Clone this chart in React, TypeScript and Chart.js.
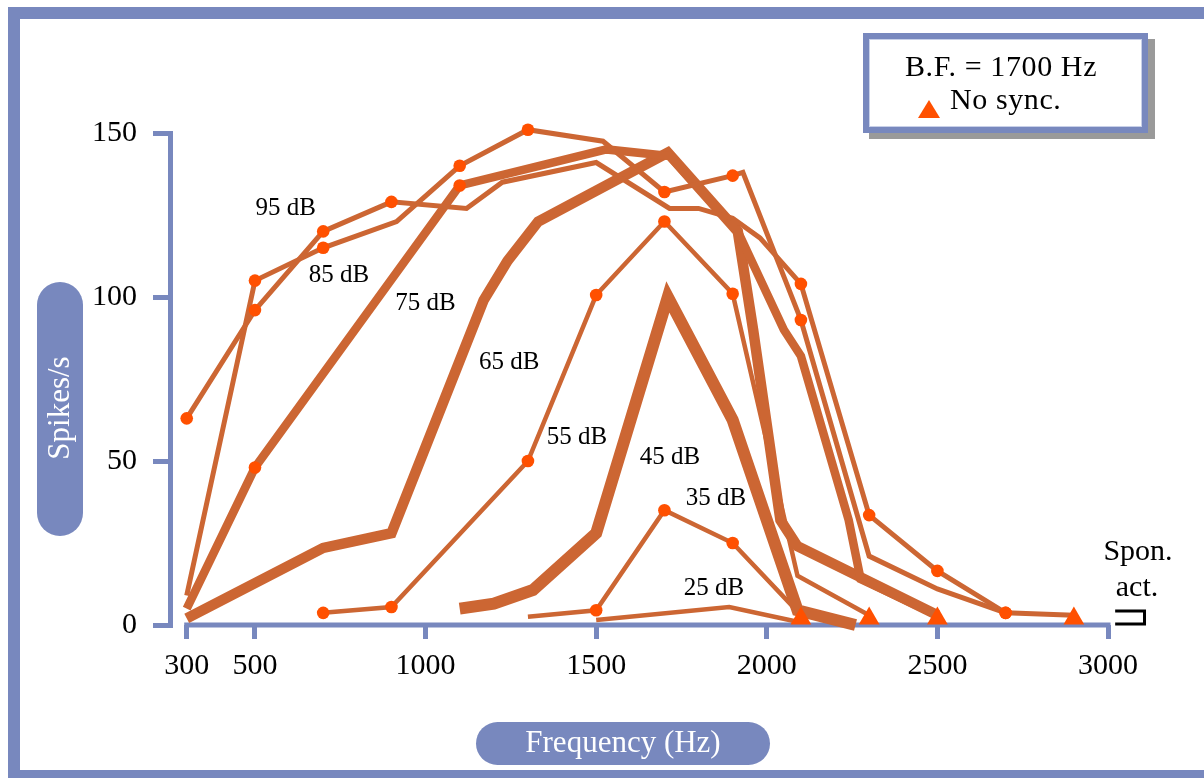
import React, { useEffect, useRef } from "react";
import { Chart, registerables } from "chart.js";

Chart.register(...registerables);

const SERIF = "'Liberation Serif', 'Times New Roman', serif";
const BLUE = "#7888be";
const LINE = "#cc6633";
const DOT = "#ff5000";

// axis ticks
const X_TICKS = [300, 500, 1000, 1500, 2000, 2500, 3000];
const Y_TICKS = [0, 50, 100, 150];

// iso-intensity curves (frequency in Hz, rate in spikes/s); DOT_* = 1 where a dot is drawn
const FREQ_95 = [300, 500, 700, 900, 1120, 1225, 1500, 1715, 1800, 1900, 1980, 2100, 2300, 2500, 2700, 2900];
const RATE_95 = [63, 96, 120, 129, 127, 135, 141, 127, 127, 124, 118, 104, 33.5, 16.5, 3.7, 3];
const DOT_95 = [1, 1, 1, 1, 0, 0, 0, 0, 0, 0, 0, 1, 1, 1, 1, 0];

const FREQ_85 = [300, 500, 700, 915, 1100, 1300, 1520, 1700, 1900, 1930, 2100, 2300, 2500, 2700];
const RATE_85 = [9, 105, 115, 123, 140, 151, 147.5, 132, 137, 138, 93, 21, 11, 3.7];
const DOT_85 = [0, 1, 1, 0, 1, 1, 0, 1, 1, 0, 1, 0, 0, 1];

const FREQ_75 = [300, 500, 1100, 1530, 1715, 1915, 2050, 2100, 2240, 2275, 2500];
const RATE_75 = [5, 48, 134, 145, 143, 120, 90, 82, 32, 14, 3];
const DOT_75 = [0, 1, 1, 0, 0, 0, 0, 0, 0, 0, 0];

const FREQ_65 = [300, 700, 900, 1170, 1240, 1330, 1710, 1915, 1960, 2040, 2090, 2500];
const RATE_65 = [2, 23.5, 28, 99, 111, 123, 144, 120, 90, 32, 24, 3];
const DOT_65 = [0, 0, 0, 0, 0, 0, 0, 0, 0, 0, 0, 0];

const FREQ_55 = [700, 900, 1300, 1500, 1700, 1900, 2090, 2300];
const RATE_55 = [3.7, 5.5, 50, 100.6, 123, 101, 15, 3];
const DOT_55 = [1, 1, 1, 1, 1, 1, 0, 0];

const FREQ_45 = [1100, 1200, 1315, 1500, 1710, 1900, 2090, 2260];
const RATE_45 = [5, 6.5, 10.7, 28, 100, 62.5, 4.5, 0];
const DOT_45 = [0, 0, 0, 0, 0, 0, 0, 0];

const FREQ_35 = [1300, 1500, 1700, 1900, 2100];
const RATE_35 = [2.5, 4.5, 35, 25, 3];
const DOT_35 = [0, 1, 1, 1, 0];

const FREQ_25 = [1500, 1890, 2090];
const RATE_25 = [1.5, 5.5, 1];
const DOT_25 = [0, 0, 0];

// "No sync." points
const NOSYNC_FREQ = [2100, 2300, 2500, 2900];
const NOSYNC_RATE = [2, 2, 2, 2];

// curve labels, anchored in data space
const LABEL_TEXT = ["95 dB", "85 dB", "75 dB", "65 dB", "55 dB", "45 dB", "35 dB", "25 dB"];
const LABEL_FREQ = [590, 746, 1000, 1245, 1444, 1716, 1851, 1845];
const LABEL_RATE = [127, 106.7, 98, 80, 57.3, 51.2, 38.7, 11];

// spontaneous activity bracket
const SPON_FREQ = [3021, 3107];
const SPON_RATE = [0.3, 4.3];

const SERIES = [
  { label: "95 dB", freq: FREQ_95, rate: RATE_95, dots: DOT_95, width: 5 },
  { label: "85 dB", freq: FREQ_85, rate: RATE_85, dots: DOT_85, width: 5 },
  { label: "75 dB", freq: FREQ_75, rate: RATE_75, dots: DOT_75, width: 8.5 },
  { label: "65 dB", freq: FREQ_65, rate: RATE_65, dots: DOT_65, width: 10.5 },
  { label: "55 dB", freq: FREQ_55, rate: RATE_55, dots: DOT_55, width: 4.5 },
  { label: "45 dB", freq: FREQ_45, rate: RATE_45, dots: DOT_45, width: 12 },
  { label: "35 dB", freq: FREQ_35, rate: RATE_35, dots: DOT_35, width: 4.5 },
  { label: "25 dB", freq: FREQ_25, rate: RATE_25, dots: DOT_25, width: 4.5 },
];

function pill(ctx: CanvasRenderingContext2D, x: number, y: number, w: number, h: number) {
  const r = Math.min(w, h) / 2;
  ctx.beginPath();
  (ctx as any).roundRect(x, y, w, h, r);
  ctx.fill();
}

const decorPlugin = {
  id: "decor",
  beforeDraw(chart: any) {
    const ctx: CanvasRenderingContext2D = chart.ctx;
    ctx.save();
    // outer frame
    ctx.strokeStyle = BLUE;
    ctx.lineWidth = 12;
    ctx.strokeRect(14, 13, 1300, 763);

    // axis title pills
    ctx.fillStyle = BLUE;
    pill(ctx, 37, 282, 46, 254);
    pill(ctx, 476, 722, 294, 43);

    ctx.fillStyle = "#ffffff";
    ctx.font = `31px ${SERIF}`;
    ctx.textAlign = "center";
    ctx.textBaseline = "middle";
    ctx.fillText("Frequency (Hz)", 623, 744);
    ctx.save();
    ctx.translate(61, 408);
    ctx.rotate(-Math.PI / 2);
    ctx.fillText("Spikes/s", 0, 0);
    ctx.restore();
    ctx.restore();
  },
  beforeDatasetsDraw(chart: any) {
    const ctx: CanvasRenderingContext2D = chart.ctx;
    const xs = chart.scales.x;
    const ys = chart.scales.y;
    ctx.save();
    ctx.strokeStyle = BLUE;
    ctx.lineWidth = 5;
    ctx.beginPath();
    const y0 = ys.getPixelForValue(0);
    ctx.moveTo(xs.getPixelForValue(X_TICKS[0]) - 2.5, y0);
    ctx.lineTo(xs.getPixelForValue(X_TICKS[X_TICKS.length - 1]) + 2.5, y0);
    ctx.stroke();
    ctx.restore();
  },
  afterDraw(chart: any) {
    const ctx: CanvasRenderingContext2D = chart.ctx;
    const xs = chart.scales.x;
    const ys = chart.scales.y;
    ctx.save();
    // curve labels
    ctx.fillStyle = "#000";
    ctx.font = `25px ${SERIF}`;
    ctx.textAlign = "center";
    ctx.textBaseline = "middle";
    LABEL_TEXT.forEach((t, i) => {
      ctx.fillText(t, xs.getPixelForValue(LABEL_FREQ[i]), ys.getPixelForValue(LABEL_RATE[i]));
    });

    // spontaneous activity
    ctx.font = `30px ${SERIF}`;
    ctx.fillText("Spon.", 1138, 552);
    ctx.fillText("act.", 1137, 588);
    ctx.strokeStyle = "#000";
    ctx.lineWidth = 3;
    ctx.beginPath();
    const sx0 = xs.getPixelForValue(SPON_FREQ[0]);
    const sx1 = xs.getPixelForValue(SPON_FREQ[1]);
    const sy0 = ys.getPixelForValue(SPON_RATE[0]);
    const sy1 = ys.getPixelForValue(SPON_RATE[1]);
    ctx.moveTo(sx0, sy1);
    ctx.lineTo(sx1, sy1);
    ctx.lineTo(sx1, sy0);
    ctx.lineTo(sx0, sy0);
    ctx.stroke();

    // legend box
    ctx.fillStyle = "#9a9a9a";
    ctx.fillRect(869, 39, 286, 100);
    ctx.fillStyle = "#ffffff";
    ctx.fillRect(863, 33, 285, 100);
    ctx.strokeStyle = BLUE;
    ctx.lineWidth = 6;
    ctx.strokeRect(866, 36, 279, 94);
    ctx.strokeStyle = "#c8d0e8";
    ctx.lineWidth = 1;
    ctx.strokeRect(869.5, 39.5, 272, 87);

    ctx.fillStyle = "#000";
    ctx.font = `30px ${SERIF}`;
    (ctx as any).letterSpacing = "0.6px";
    ctx.textBaseline = "alphabetic";
    ctx.textAlign = "center";
    ctx.fillText("B.F. = 1700 Hz", 1001, 76);
    ctx.textAlign = "left";
    ctx.fillText("No sync.", 950, 109);
    (ctx as any).letterSpacing = "0px";
    ctx.fillStyle = DOT;
    ctx.beginPath();
    ctx.moveTo(918, 118);
    ctx.lineTo(940, 118);
    ctx.lineTo(929, 100);
    ctx.closePath();
    ctx.fill();
    ctx.restore();
  },
};

export default function App() {
  const ref = useRef<HTMLCanvasElement | null>(null);

  useEffect(() => {
    if (!ref.current) return;
    const datasets: any[] = [];
    SERIES.forEach((s) => {
      const pts = s.freq.map((f, i) => ({ x: f, y: s.rate[i] }));
      datasets.push({
        type: "line",
        label: s.label,
        data: pts,
        borderColor: LINE,
        borderWidth: s.width,
        borderCapStyle: "butt",
        borderJoinStyle: "miter",
        pointRadius: 0,
        tension: 0,
        fill: false,
        clip: false,
        order: 3,
      });
      datasets.push({
        type: "line",
        label: s.label + " points",
        data: pts,
        showLine: false,
        pointRadius: s.dots.map((d) => (d ? 6.3 : 0)),
        pointBackgroundColor: DOT,
        pointBorderWidth: 0,
        pointBorderColor: DOT,
        clip: false,
        order: 2,
      });
    });
    datasets.push({
      type: "line",
      label: "No sync.",
      data: NOSYNC_FREQ.map((f, i) => ({ x: f, y: NOSYNC_RATE[i] })),
      showLine: false,
      pointStyle: "triangle",
      pointRadius: 12,
      pointBackgroundColor: DOT,
      pointBorderWidth: 0,
      pointBorderColor: DOT,
      clip: false,
      order: 1,
    });

    const chart = new Chart(ref.current, {
      type: "line",
      data: { datasets },
      options: {
        animation: false,
        responsive: false,
        events: [],
        layout: { padding: { left: 60, right: 96, top: 133, bottom: 93 } },
        plugins: { legend: { display: false }, tooltip: { enabled: false } },
        scales: {
          x: {
            type: "linear",
            min: 251,
            max: 3000,
            afterBuildTicks: (s: any) => {
              s.ticks = X_TICKS.map((v) => ({ value: v }));
            },
            afterFit: (s: any) => {
              s.height = 60;
            },
            border: { display: false },
            grid: {
              drawOnChartArea: false,
              drawTicks: true,
              tickLength: 14,
              lineWidth: 5,
              color: BLUE,
            },
            ticks: {
              color: "#000",
              font: { family: SERIF, size: 30 },
              padding: 9,
              maxRotation: 0,
              autoSkip: false,
              callback: (v: any) => String(v),
            },
          },
          y: {
            type: "linear",
            min: 0,
            max: 150,
            afterBuildTicks: (s: any) => {
              s.ticks = Y_TICKS.map((v) => ({ value: v }));
            },
            afterFit: (s: any) => {
              s.width = 110;
            },
            border: { display: true, color: BLUE, width: 5 },
            grid: {
              drawOnChartArea: false,
              drawTicks: true,
              tickLength: 17,
              lineWidth: 5,
              color: BLUE,
            },
            ticks: {
              color: "#000",
              font: { family: SERIF, size: 30 },
              padding: 16,
              callback: (v: any) => String(v),
            },
          },
        },
      },
      plugins: [decorPlugin],
    } as any);
    return () => chart.destroy();
  }, []);

  return (
    <div style={{ position: "fixed", left: 0, top: 0, width: 1204, height: 778, background: "#fff" }}>
      <canvas ref={ref} width={1204} height={778} style={{ display: "block" }} />
    </div>
  );
}
